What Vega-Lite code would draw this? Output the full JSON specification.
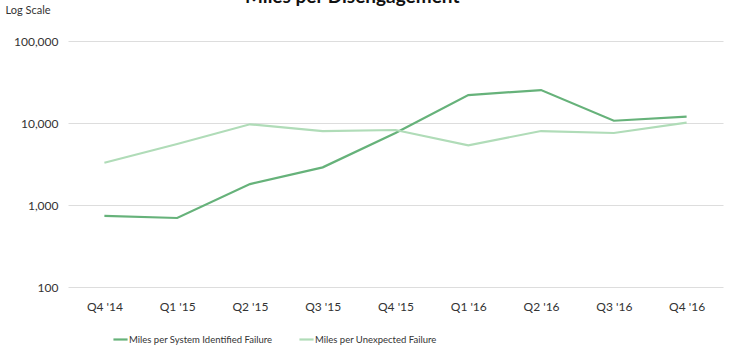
{
  "$schema": "https://vega.github.io/schema/vega-lite/v6.json",
  "autosize": "none",
  "width": 655,
  "height": 246,
  "padding": {"left": 68, "top": 41, "right": 12, "bottom": 67},
  "background": "white",
  "config": {
    "font": "Lato",
    "view": {"stroke": null}
  },
  "title": {
    "text": "Miles per Disengagement",
    "fontSize": 19,
    "fontWeight": "bold",
    "color": "#111",
    "anchor": "start",
    "dx": 240,
    "baseline": "alphabetic",
    "offset": -18
  },
  "data": {
    "values": [
      {"q": "Q4 '14", "s": "Miles per System Identified Failure", "v": 735},
      {"q": "Q1 '15", "s": "Miles per System Identified Failure", "v": 694},
      {"q": "Q2 '15", "s": "Miles per System Identified Failure", "v": 1800},
      {"q": "Q3 '15", "s": "Miles per System Identified Failure", "v": 2880},
      {"q": "Q4 '15", "s": "Miles per System Identified Failure", "v": 7550},
      {"q": "Q1 '16", "s": "Miles per System Identified Failure", "v": 21900},
      {"q": "Q2 '16", "s": "Miles per System Identified Failure", "v": 25200},
      {"q": "Q3 '16", "s": "Miles per System Identified Failure", "v": 10660},
      {"q": "Q4 '16", "s": "Miles per System Identified Failure", "v": 11940},
      {"q": "Q4 '14", "s": "Miles per Unexpected Failure", "v": 3280},
      {"q": "Q1 '15", "s": "Miles per Unexpected Failure", "v": 5545},
      {"q": "Q2 '15", "s": "Miles per Unexpected Failure", "v": 9640},
      {"q": "Q3 '15", "s": "Miles per Unexpected Failure", "v": 7980},
      {"q": "Q4 '15", "s": "Miles per Unexpected Failure", "v": 8220},
      {"q": "Q1 '16", "s": "Miles per Unexpected Failure", "v": 5350},
      {"q": "Q2 '16", "s": "Miles per Unexpected Failure", "v": 7980},
      {"q": "Q3 '16", "s": "Miles per Unexpected Failure", "v": 7550},
      {"q": "Q4 '16", "s": "Miles per Unexpected Failure", "v": 10090}
    ]
  },
  "mark": {"type": "line", "strokeWidth": 2.2},
  "encoding": {
    "x": {
      "field": "q",
      "type": "ordinal",
      "sort": null,
      "scale": {"type": "point", "padding": 0.5},
      "axis": {
        "title": null,
        "labelAngle": 0,
        "domain": false,
        "ticks": false,
        "grid": false,
        "labelFontSize": 12,
        "labelColor": "#333",
        "labelPadding": 14
      }
    },
    "y": {
      "field": "v",
      "type": "quantitative",
      "scale": {"type": "log", "domain": [100, 100000], "nice": false},
      "axis": {
        "values": [100, 1000, 10000, 100000],
        "format": ",",
        "domain": false,
        "ticks": false,
        "grid": true,
        "gridColor": "#dddddd",
        "gridWidth": 1,
        "labelFontSize": 12,
        "labelColor": "#333",
        "labelPadding": 10,
        "title": "Log Scale",
        "titleAngle": 0,
        "titleAlign": "left",
        "titleBaseline": "middle",
        "titleX": -63,
        "titleY": -31,
        "titleFontSize": 11,
        "titleFontWeight": "normal",
        "titleColor": "#333"
      }
    },
    "color": {
      "field": "s",
      "type": "nominal",
      "scale": {
        "domain": ["Miles per System Identified Failure", "Miles per Unexpected Failure"],
        "range": ["#66b27a", "#b0dcb8"]
      },
      "legend": {
        "title": null,
        "orient": "none",
        "direction": "horizontal",
        "legendX": 44,
        "legendY": 290,
        "symbolType": "stroke",
        "symbolSize": 200,
        "symbolStrokeWidth": 2.2,
        "labelFontSize": 9.5,
        "labelLimit": 400,
        "labelColor": "#333",
        "labelOffset": 0,
        "columnPadding": 22
      }
    }
  }
}
